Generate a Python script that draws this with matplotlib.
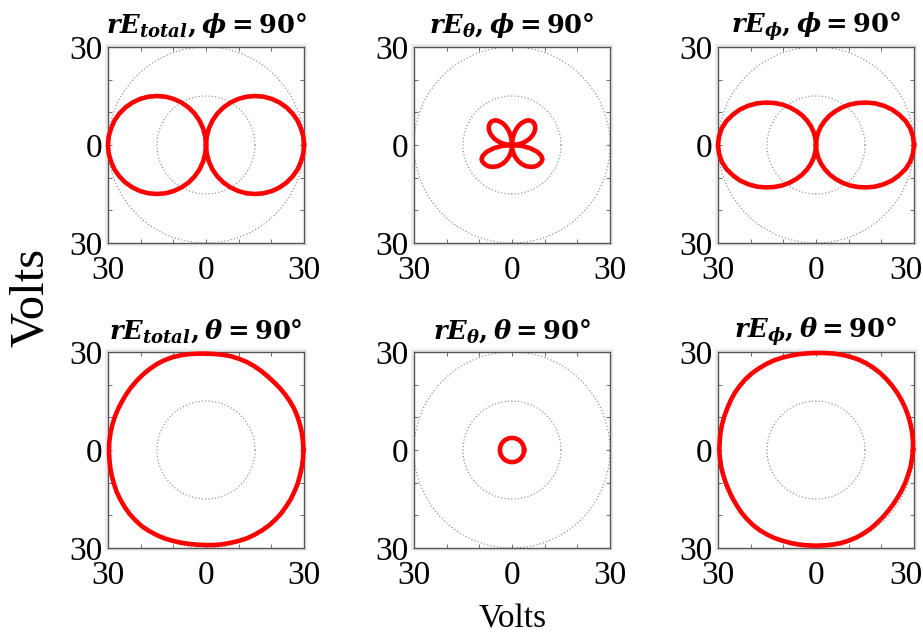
import numpy as np
import matplotlib
matplotlib.use("Agg")
import matplotlib.pyplot as plt
from matplotlib.patches import Rectangle
from matplotlib.transforms import ScaledTranslation

# ---- data: field magnitude (Volts) sampled every 5 degrees ----
angles_deg = np.arange(0, 360, 5)

r_total_phi90 = [30.0, 29.9, 29.5, 29.0, 28.2, 27.2, 26.0, 24.6, 23.0, 21.2,
                 19.3, 17.2, 15.0, 12.7, 10.3, 7.8, 5.2, 2.6, 0.0, 2.6,
                 5.2, 7.8, 10.3, 12.7, 15.0, 17.2, 19.3, 21.2, 23.0, 24.6,
                 26.0, 27.2, 28.2, 29.0, 29.5, 29.9,
                 30.0, 29.9, 29.5, 29.0, 28.2, 27.2, 26.0, 24.6, 23.0, 21.2,
                 19.3, 17.2, 15.0, 12.7, 10.3, 7.8, 5.2, 2.6, 0.0, 2.6,
                 5.2, 7.8, 10.3, 12.7, 15.0, 17.2, 19.3, 21.2, 23.0, 24.6,
                 26.0, 27.2, 28.2, 29.0, 29.5, 29.9]

r_theta_phi90 = [0.0, 1.5, 3.1, 4.5, 5.8, 6.9, 7.9, 8.7, 9.2, 9.5,
                 9.5, 9.2, 8.6, 7.6, 6.5, 5.1, 3.5, 1.8, 0.0, 1.8,
                 3.5, 5.1, 6.5, 7.6, 8.6, 9.2, 9.5, 9.5, 9.2, 8.7,
                 7.9, 6.9, 5.8, 4.5, 3.1, 1.5,
                 0.0, 3.0, 5.7, 8.0, 9.5, 10.3, 10.4, 10.2, 9.9, 9.4,
                 8.7, 8.0, 7.1, 6.1, 5.0, 3.8, 2.6, 1.3, 0.0, 1.3,
                 2.6, 3.8, 5.0, 6.1, 7.1, 8.0, 8.7, 9.4, 9.9, 10.2,
                 10.4, 10.3, 9.5, 8.0, 5.7, 3.0]

r_phi_phi90 = [30.0, 29.8, 29.3, 28.4, 27.1, 25.7, 24.0, 22.2, 20.2, 18.2,
               16.2, 14.1, 12.0, 10.0, 7.9, 5.9, 3.9, 2.0, 0.0, 2.0,
               3.9, 5.9, 7.9, 10.0, 12.0, 14.1, 16.2, 18.2, 20.2, 22.2,
               24.0, 25.7, 27.1, 28.4, 29.3, 29.8,
               30.0, 29.8, 29.3, 28.4, 27.1, 25.7, 24.0, 22.2, 20.2, 18.2,
               16.2, 14.1, 12.0, 10.0, 7.9, 5.9, 3.9, 2.0, 0.0, 2.0,
               3.9, 5.9, 7.9, 10.0, 12.0, 14.1, 16.2, 18.2, 20.2, 22.2,
               24.0, 25.7, 27.1, 28.4, 29.3, 29.8]

r_total_theta90 = [29.8, 29.8, 29.8, 29.8, 29.8, 29.8, 29.7, 29.6, 29.5, 29.4,
                   29.4, 29.5, 29.6, 29.7, 29.7, 29.7, 29.6, 29.5, 29.5, 29.6,
                   29.8, 30.0, 30.2, 30.3, 30.3, 30.2, 30.1, 30.0, 29.9, 29.8,
                   29.7, 29.7, 29.7, 29.7, 29.7, 29.7,
                   29.7, 29.7, 29.8, 29.9, 30.0, 30.2, 30.3, 30.4, 30.5, 30.5,
                   30.5, 30.3, 30.1, 29.9, 29.6, 29.4, 29.2, 29.1, 29.1, 29.2,
                   29.3, 29.4, 29.6, 29.8, 29.9, 30.0, 30.1, 30.1, 30.1, 30.0,
                   30.0, 29.9, 29.9, 29.8, 29.8, 29.8]

r_theta_theta90 = [3.7, 3.7, 3.7, 3.7, 3.7, 3.7, 3.7, 3.7, 3.7, 3.7,
                   3.7, 3.7, 3.7, 3.7, 3.7, 3.7, 3.7, 3.7, 3.7, 3.7,
                   3.7, 3.7, 3.7, 3.7, 3.7, 3.7, 3.7, 3.7, 3.7, 3.7,
                   3.7, 3.7, 3.7, 3.7, 3.7, 3.7,
                   3.7, 3.7, 3.7, 3.7, 3.7, 3.7, 3.7, 3.7, 3.7, 3.7,
                   3.7, 3.7, 3.7, 3.7, 3.7, 3.7, 3.7, 3.7, 3.7, 3.7,
                   3.7, 3.7, 3.7, 3.7, 3.7, 3.7, 3.7, 3.7, 3.7, 3.7,
                   3.7, 3.7, 3.7, 3.7, 3.7, 3.7]

r_phi_theta90 = [29.7, 29.8, 29.9, 30.0, 30.1, 30.2, 30.3, 30.4, 30.5, 30.6,
                 30.7, 30.7, 30.7, 30.6, 30.4, 30.2, 30.0, 29.8, 29.7, 29.7,
                 29.8, 29.9, 30.1, 30.3, 30.4, 30.5, 30.6, 30.6, 30.5, 30.4,
                 30.2, 30.0, 29.9, 29.8, 29.7, 29.6,
                 29.6, 29.5, 29.5, 29.4, 29.4, 29.4, 29.5, 29.6, 29.8, 29.9,
                 30.0, 30.0, 29.9, 29.8, 29.6, 29.5, 29.4, 29.3, 29.3, 29.3,
                 29.4, 29.5, 29.5, 29.5, 29.4, 29.3, 29.1, 29.0, 28.9, 28.9,
                 28.9, 29.0, 29.1, 29.2, 29.4, 29.5]

titles = [r"$rE_{total},\phi = 90\degree$",
          r"$rE_{\theta},\phi = 90\degree$",
          r"$rE_{\phi},\phi = 90\degree$",
          r"$rE_{total},\theta = 90\degree$",
          r"$rE_{\theta},\theta = 90\degree$",
          r"$rE_{\phi},\theta = 90\degree$"]
series = [r_total_phi90, r_theta_phi90, r_phi_phi90,
          r_total_theta90, r_theta_theta90, r_phi_theta90]

grid_radii = [15, 30]
tick_values = [-30, -20, -10, 0, 10, 20, 30]
tick_labels = ["30", "", "", "0", "", "", "30"]

# ---- style ----
plt.rcParams["mathtext.fontset"] = "custom"
plt.rcParams["mathtext.rm"] = "DejaVu Serif:bold"
plt.rcParams["mathtext.it"] = "DejaVu Serif:italic:bold"
plt.rcParams["mathtext.bf"] = "DejaVu Serif:bold"
plt.rcParams["font.family"] = ["Liberation Serif", "DejaVu Serif"]

W, H = 923, 634
fig = plt.figure(figsize=(W / 100, H / 100), dpi=100)

box = 196
lefts = [108, 414, 718]
tops = [47, 352]

theta_closed = np.deg2rad(np.append(angles_deg, angles_deg[0]))
circ = np.linspace(0, 2 * np.pi, 400)

for i, (title, r) in enumerate(zip(titles, series)):
    row, col = divmod(i, 3)
    left, top = lefts[col], tops[row]
    rect = [left / W, 1 - (top + box) / H, box / W, box / H]

    # light grey frame behind each panel
    pad = 3
    fig.add_artist(Rectangle(((left - pad) / W, 1 - (top + box + pad) / H),
                             (box + 2 * pad) / W, (box + 2 * pad) / H,
                             transform=fig.transFigure, facecolor="#ececec",
                             edgecolor="none", zorder=-1))

    ax = fig.add_axes(rect)
    ax.set_xlim(-30, 30)
    ax.set_ylim(-30, 30)

    for gr in grid_radii:
        ax.plot(gr * np.cos(circ), gr * np.sin(circ), linestyle=(0, (1, 2)),
                color="#808080", linewidth=0.8, zorder=1)

    rr = np.append(r, r[0])
    ax.plot(rr * np.cos(theta_closed), rr * np.sin(theta_closed),
            color="#ff0000", linewidth=3.3, solid_joinstyle="round",
            zorder=3, clip_on=False)

    ax.set_xticks(tick_values)
    ax.set_yticks(tick_values)
    ax.set_xticklabels(tick_labels)
    ax.set_yticklabels(tick_labels)
    ax.tick_params(direction="in", length=3, width=0.6, color="#555555",
                   top=True, right=True, labelsize=24)
    ax.tick_params(axis="x", pad=9)
    ax.tick_params(axis="y", pad=4)
    for sp in ax.spines.values():
        sp.set_color("#555555")
        sp.set_linewidth(1.0)
    ax.set_title(title, fontsize=18.5, pad=10)

    if col == 2:
        last = ax.get_xticklabels()[-1]
        last.set_horizontalalignment("right")
        last.set_transform(last.get_transform()
                           + ScaledTranslation(0.09, 0, fig.dpi_scale_trans))

fig.text(513 / W, 1 - 628 / H, "Volts", fontsize=24, ha="center", va="baseline")
fig.text(31 / W, 1 - 297 / H, "Volts", fontsize=35, ha="center", va="center",
         rotation=90)

fig.savefig("out.png", dpi=100, facecolor="white")
